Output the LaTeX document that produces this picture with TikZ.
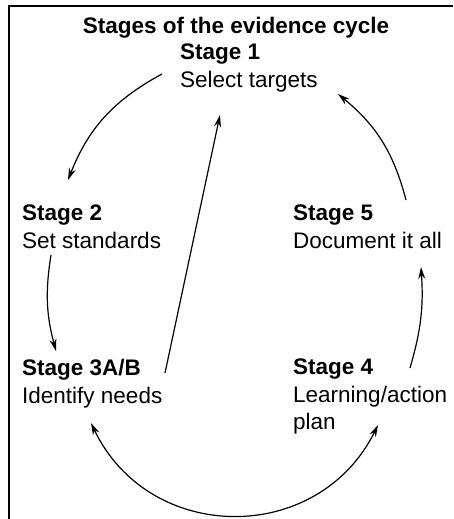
\documentclass[tikz,border=0pt]{standalone}
\usepackage{fontspec}
\setmainfont{Liberation Sans}
\usetikzlibrary{arrows.meta}
\newcommand{\stagenode}[4] % name, top left corner, heading, text
{
	\node[stagetext] (#1) at (#2) {\textbf{#3}\\#4};
}

\begin{document}
\begin{tikzpicture}[x=1pt, y=-1pt,
	stagetext/.style={anchor=north west, align=left, inner sep=0pt,
		font=\fontsize{22.5}{27.5}\selectfont},
	cyc/.style={line width=1.2pt, -{Stealth[length=12pt,width=7pt]}}]
	% page 453 x 519, y grows downwards
	\useasboundingbox (0,0) rectangle (453,519);
	% frame, only top and left edges show
	\draw[line width=1.4pt] (453,6) -- (9,6) -- (9,519);
	\node[anchor=base, inner sep=0pt, font=\fontsize{22.5}{27.5}\selectfont\bfseries]
		(title) at (236,34) {Stages of the evidence cycle};
	% stages
	\stagenode{s1}{180,44}{Stage 1}{Select targets}
	\stagenode{s2}{22,205}{Stage 2}{Set standards}
	\stagenode{s3}{22,359}{Stage 3A/B}{Identify needs}
	\stagenode{s4}{293,359}{Stage 4}{Learning/action\\plan}
	\stagenode{s5}{293,205}{Stage 5}{Document it all}
	% cycle arrows
	\draw[cyc] ([shift={(-18,30)}]s1.north west) to[bend right=20] ([shift={(46,-25)}]s2.north west);
	\draw[cyc] ([shift={(29,50)}]s2.north west) to[bend right=12] ([shift={(34,-8)}]s3.north west);
	\draw[cyc] ([shift={(143,14)}]s3.north west) -- ([shift={(40,71)}]s1.north west);
	\draw[cyc] ([shift={(117,9)}]s4.north west) to[bend right=10] ([shift={(128,62)}]s5.north west);
	\draw[cyc] ([shift={(113,-5)}]s5.north west) to[bend right=18] ([shift={(158,50)}]s1.north west);
	\draw[cyc, {Stealth[length=12pt,width=7pt]}-{Stealth[length=12pt,width=7pt]}]
		([shift={(69,64)}]s3.north west) to[bend right=64, looseness=1.2] ([shift={(85,66)}]s4.north west);
\end{tikzpicture}
\end{document}
